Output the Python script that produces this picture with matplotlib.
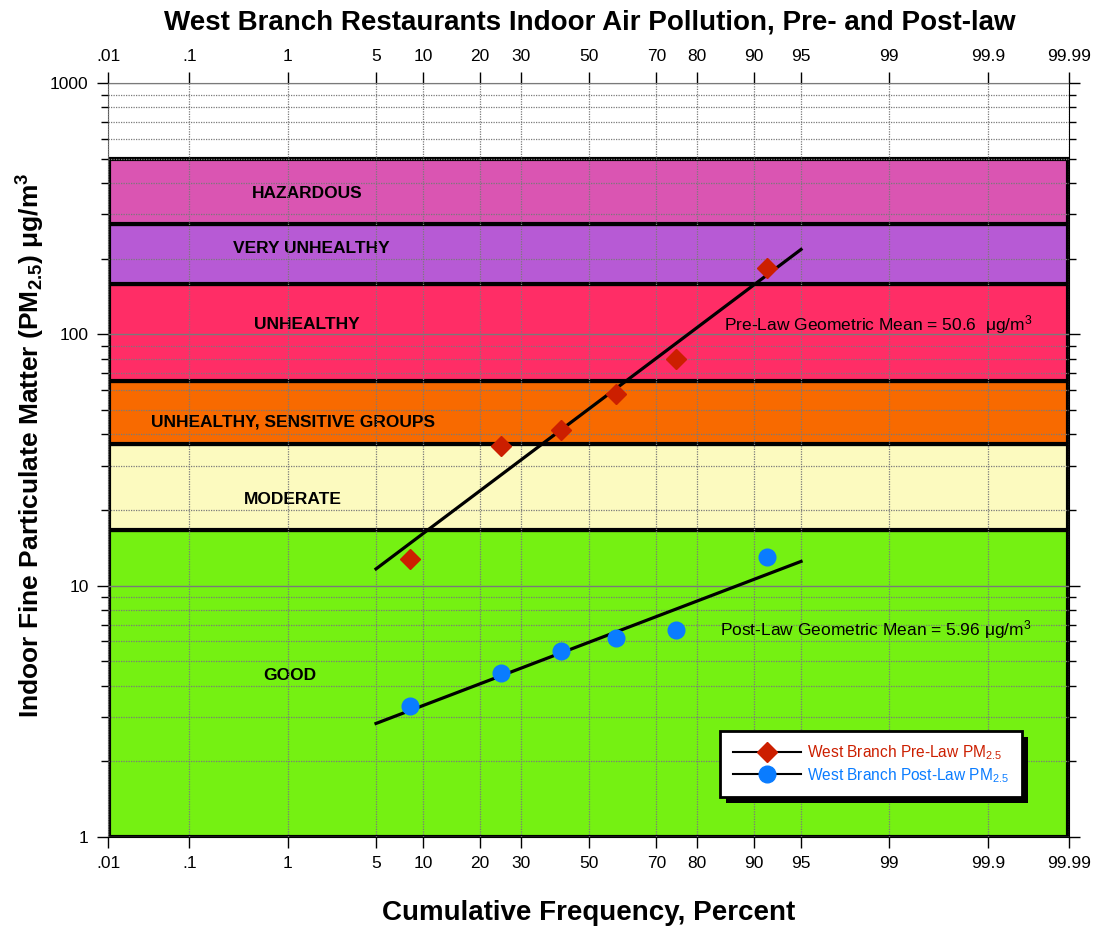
import matplotlib
matplotlib.use("Agg")
import matplotlib.pyplot as plt
from matplotlib.lines import Line2D
from matplotlib.patches import Rectangle
from statistics import NormalDist
import numpy as np

plt.rcParams["font.family"] = ["Liberation Sans", "DejaVu Sans"]
plt.rcParams["mathtext.default"] = "regular"

# cumulative frequency (plotting positions), percent
freq = [8.33, 25.0, 41.67, 58.33, 75.0, 91.67]
pre_law = [12.8, 36.0, 41.7, 58.0, 79.8, 184.0]
post_law = [3.32, 4.5, 5.5, 6.2, 6.66, 13.0]
pre_gm = 50.6
post_gm = 5.96

tick_pct = [0.01, 0.1, 1, 5, 10, 20, 30, 50, 70, 80, 90, 95, 99, 99.9, 99.99]
tick_labels = [".01", ".1", "1", "5", "10", "20", "30", "50", "70", "80",
               "90", "95", "99", "99.9", "99.99"]

band_names = ["GOOD", "MODERATE", "UNHEALTHY, SENSITIVE GROUPS", "UNHEALTHY",
              "VERY UNHEALTHY", "HAZARDOUS"]
band_lo = [1, 16.6, 36.6, 65.3, 158, 275]
band_hi = [16.6, 36.6, 65.3, 158, 275, 500]
band_colors = ["#75F112", "#FCFABF", "#F86A00", "#FF2D66", "#B75AD5", "#DA55B2"]

nd = NormalDist()


def zq(p):
    return nd.inv_cdf(p / 100.0)


fig = plt.figure(figsize=(10.97, 9.31), dpi=100)
ax = fig.add_axes([0.0985, 0.101, 0.8760, 0.8098])

x_lo, x_hi = zq(0.01), zq(99.99)
ax.set_xlim(x_lo, x_hi)
ax.set_yscale("log")
ax.set_ylim(1, 1000)

# AQI bands
for lo, hi, col in zip(band_lo, band_hi, band_colors):
    ax.add_patch(Rectangle((x_lo + 0.01, lo), x_hi - x_lo - 0.02, hi - lo,
                           facecolor=col, edgecolor="black", lw=3, zorder=0.5))

band_pos = [(0.189, 0.214), (0.192, 0.447), (0.192, 0.550),
            (0.207, 0.680), (0.211, 0.780), (0.207, 0.854)]
for name, (bx, by) in zip(band_names, band_pos):
    ax.text(bx, by, name, transform=ax.transAxes, ha="center", va="center",
            fontsize=12.5, fontweight="bold", zorder=2)

# grid
ax.set_axisbelow(False)
ax.grid(True, which="major", axis="y", color="#7a7a7a", lw=1.0, ls="-")
ax.grid(True, which="minor", axis="y", color="#7a7a7a", lw=0.9, ls=(0, (1, 1)))
ax.grid(True, which="major", axis="x", color="#7a7a7a", lw=0.9, ls=(0, (1, 1)))

# data and fitted lines
zf = np.array([zq(f) for f in freq])
zline = np.array([zq(5), zq(95)])
for vals in (pre_law, post_law):
    k, b = np.polyfit(zf, np.log10(vals), 1)
    ax.plot(zline, 10 ** (k * zline + b), color="black", lw=2.3, zorder=3)
ax.plot(zf, pre_law, ls="none", marker="D", ms=10, color="#CC1F00", zorder=4)
ax.plot(zf, post_law, ls="none", marker="o", ms=12, color="#0A7CFF", zorder=4)

ax.text(0.641, 0.680, "Pre-Law Geometric Mean = %.1f  $\\mu$g/m$^3$" % pre_gm,
        transform=ax.transAxes, fontsize=12.5, va="center", zorder=5)
ax.text(0.637, 0.275, "Post-Law Geometric Mean = %.2f $\\mu$g/m$^3$" % post_gm,
        transform=ax.transAxes, fontsize=12.5, va="center", zorder=5)

# axes, ticks
ax.set_xticks([zq(p) for p in tick_pct])
ax.set_xticklabels(tick_labels)
ax.set_yticks([1, 10, 100, 1000])
ax.set_yticklabels(["1", "10", "100", "1000"])
ax.tick_params(axis="x", which="major", direction="out", length=8, width=1,
               top=True, labeltop=True, labelsize=12.5, pad=6)
ax.tick_params(axis="y", which="major", direction="out", length=8, width=1,
               right=True, labelsize=12.5, pad=6)
ax.tick_params(axis="y", which="minor", direction="out", length=5, width=1,
               right=True)
for s in ("left", "top"):
    ax.spines[s].set_color("#555555")
ax.spines["right"].set_color("black")
ax.spines["bottom"].set_color("black")

ax.set_xlabel("Cumulative Frequency, Percent", fontsize=20, fontweight="bold")
ax.xaxis.set_label_coords(0.5, -0.083)
ax.set_ylabel("Indoor Fine Particulate Matter (PM$_{2.5}$) $\\mu$g/m$^3$",
              fontsize=19, fontweight="bold")
ax.yaxis.set_label_coords(-0.064, 0.52)
fig.text(0.538, 0.976,
         "West Branch Restaurants Indoor Air Pollution, Pre- and Post-law",
         fontsize=20, fontweight="bold", ha="center", va="center")

# legend
handles = [Line2D([], [], color="black", lw=1.5, marker="D", ms=10,
                  markerfacecolor="#CC1F00", markeredgecolor="#CC1F00"),
           Line2D([], [], color="black", lw=1.5, marker="o", ms=12,
                  markerfacecolor="#0A7CFF", markeredgecolor="#0A7CFF")]
leg = ax.legend(handles, ["West Branch Pre-Law PM$_{2.5}$",
                          "West Branch Post-Law PM$_{2.5}$"],
                loc="lower left", bbox_to_anchor=(0.637, 0.053),
                borderaxespad=0, fancybox=False, framealpha=1,
                edgecolor="black", fontsize=11.2, handlelength=4.4,
                handletextpad=0.4, labelspacing=0.25, borderpad=0.8,
                labelcolor=["#CC1F00", "#0A7CFF"])
leg.get_frame().set_linewidth(2)
leg.set_zorder(6)

fig.canvas.draw()
bb = leg.get_window_extent().transformed(ax.transAxes.inverted())
dx = 6 / (ax.get_window_extent().width)
dy = 6 / (ax.get_window_extent().height)
ax.add_patch(Rectangle((bb.x0 + dx, bb.y0 - dy), bb.width, bb.height,
                       transform=ax.transAxes, facecolor="black",
                       edgecolor="none", zorder=5.5, clip_on=False))

fig.savefig("out.png", dpi=100)
